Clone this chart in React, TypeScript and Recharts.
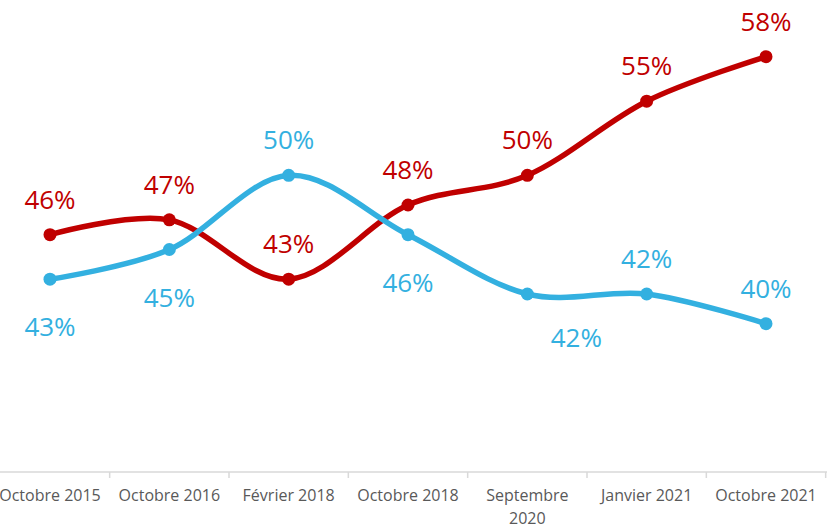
import React from 'react';
import { LineChart, Line, XAxis, YAxis, LabelList } from 'recharts';

const categories = ['Octobre 2015', 'Octobre 2016', 'Février 2018', 'Octobre 2018', 'Septembre 2020', 'Janvier 2021', 'Octobre 2021'];
const redValues = [46, 47, 43, 48, 50, 55, 58];
const blueValues = [43, 45, 50, 46, 42, 42, 40];
const redPlacement = ['above', 'above', 'above', 'above', 'above', 'above', 'above'];
const bluePlacement = ['below', 'below', 'above', 'below', 'belowRight', 'above', 'above'];

const RED = '#C00000';
const BLUE = '#33B0E0';
const FONT = '"Open Sans", "Noto Sans", sans-serif';

const data = categories.map((c, i) => ({ name: c, red: redValues[i], blue: blueValues[i] }));

// Excel-like smoothing (uniform Catmull-Rom / cardinal tension 0)
const smoothCurve = (context: any) => {
  const k = 1 / 6;
  let x0 = NaN, y0 = NaN, x1 = NaN, y1 = NaN, x2 = NaN, y2 = NaN;
  let pt = 0;
  let line: number = NaN;
  const bez = (x: number, y: number) => {
    context.bezierCurveTo(
      x1 + k * (x2 - x0), y1 + k * (y2 - y0),
      x2 + k * (x1 - x), y2 + k * (y1 - y),
      x2, y2
    );
  };
  return {
    areaStart() { line = 0; },
    areaEnd() { line = NaN; },
    lineStart() { x0 = x1 = x2 = y0 = y1 = y2 = NaN; pt = 0; },
    lineEnd() {
      switch (pt) {
        case 2: context.lineTo(x2, y2); break;
        case 3: bez(x1, y1); break;
      }
      if (line || (line !== 0 && pt === 1)) context.closePath();
      line = 1 - line;
    },
    point(x: number, y: number) {
      x = +x; y = +y;
      switch (pt) {
        case 0: pt = 1; line ? context.lineTo(x, y) : context.moveTo(x, y); break;
        case 1: pt = 2; x1 = x; y1 = y; break;
        case 2: pt = 3; bez(x, y); break;
        default: bez(x, y); break;
      }
      x0 = x1; x1 = x2; x2 = x;
      y0 = y1; y1 = y2; y2 = y;
    },
  };
};

const makeLabel = (placement: string[], color: string) => (props: any) => {
  const { x, y, value, index } = props;
  const p = placement[index];
  let dx = 0;
  let dy = -36;
  if (p === 'below') dy = 47;
  if (p === 'belowRight') { dy = 43; dx = 49; }
  return (
    <text x={x + dx} y={y + dy} textAnchor="middle" dominantBaseline="central" fill={color} fontSize={26} fontFamily={FONT}>
      {`${value}%`}
    </text>
  );
};

const Tick = (props: any) => {
  const { x, y, payload, halfStep } = props;
  const label: string = payload.value;
  let lines = [label];
  if (label.length > 13) {
    const idx = label.lastIndexOf(' ');
    lines = [label.slice(0, idx), label.slice(idx + 1)];
  }
  return (
    <g>
      <line x1={x + halfStep} x2={x + halfStep} y1={y - 8} y2={y - 2} stroke="#d9d9d9" strokeWidth={1.5} />
      <text x={x} y={y + 21} textAnchor="middle" fill="#595959" fontSize={16} fontFamily={FONT}>
        {lines.map((l, i) => (
          <tspan key={i} x={x} dy={i === 0 ? 0 : 23}>{l}</tspan>
        ))}
      </text>
    </g>
  );
};

export default function App() {
  const halfStep = (766 - 50) / 6 / 2;
  return (
    <div style={{ position: 'absolute', left: 0, top: 0, width: 829, height: 529, background: '#fff' }}>
      <LineChart width={829} height={529} data={data} margin={{ top: 27, right: 2, bottom: 0, left: 0 }}>
        <XAxis
          dataKey="name"
          axisLine={{ stroke: '#d9d9d9', strokeWidth: 1.5 }}
          tickLine={false}
          height={57}
          interval={0}
          padding={{ left: 50, right: 61 }}
          tick={<Tick halfStep={halfStep} />}
        />
        <YAxis hide domain={[30, 60]} />
        <Line
          dataKey="red"
          type={smoothCurve as any}
          stroke={RED}
          strokeWidth={5.5}
          dot={{ r: 6.5, fill: RED, stroke: RED, strokeWidth: 0 }}
          activeDot={false}
          isAnimationActive={false}
        >
          <LabelList dataKey="red" content={makeLabel(redPlacement, RED)} />
        </Line>
        <Line
          dataKey="blue"
          type={smoothCurve as any}
          stroke={BLUE}
          strokeWidth={5.5}
          dot={{ r: 6.5, fill: BLUE, stroke: BLUE, strokeWidth: 0 }}
          activeDot={false}
          isAnimationActive={false}
        >
          <LabelList dataKey="blue" content={makeLabel(bluePlacement, BLUE)} />
        </Line>
      </LineChart>
    </div>
  );
}
